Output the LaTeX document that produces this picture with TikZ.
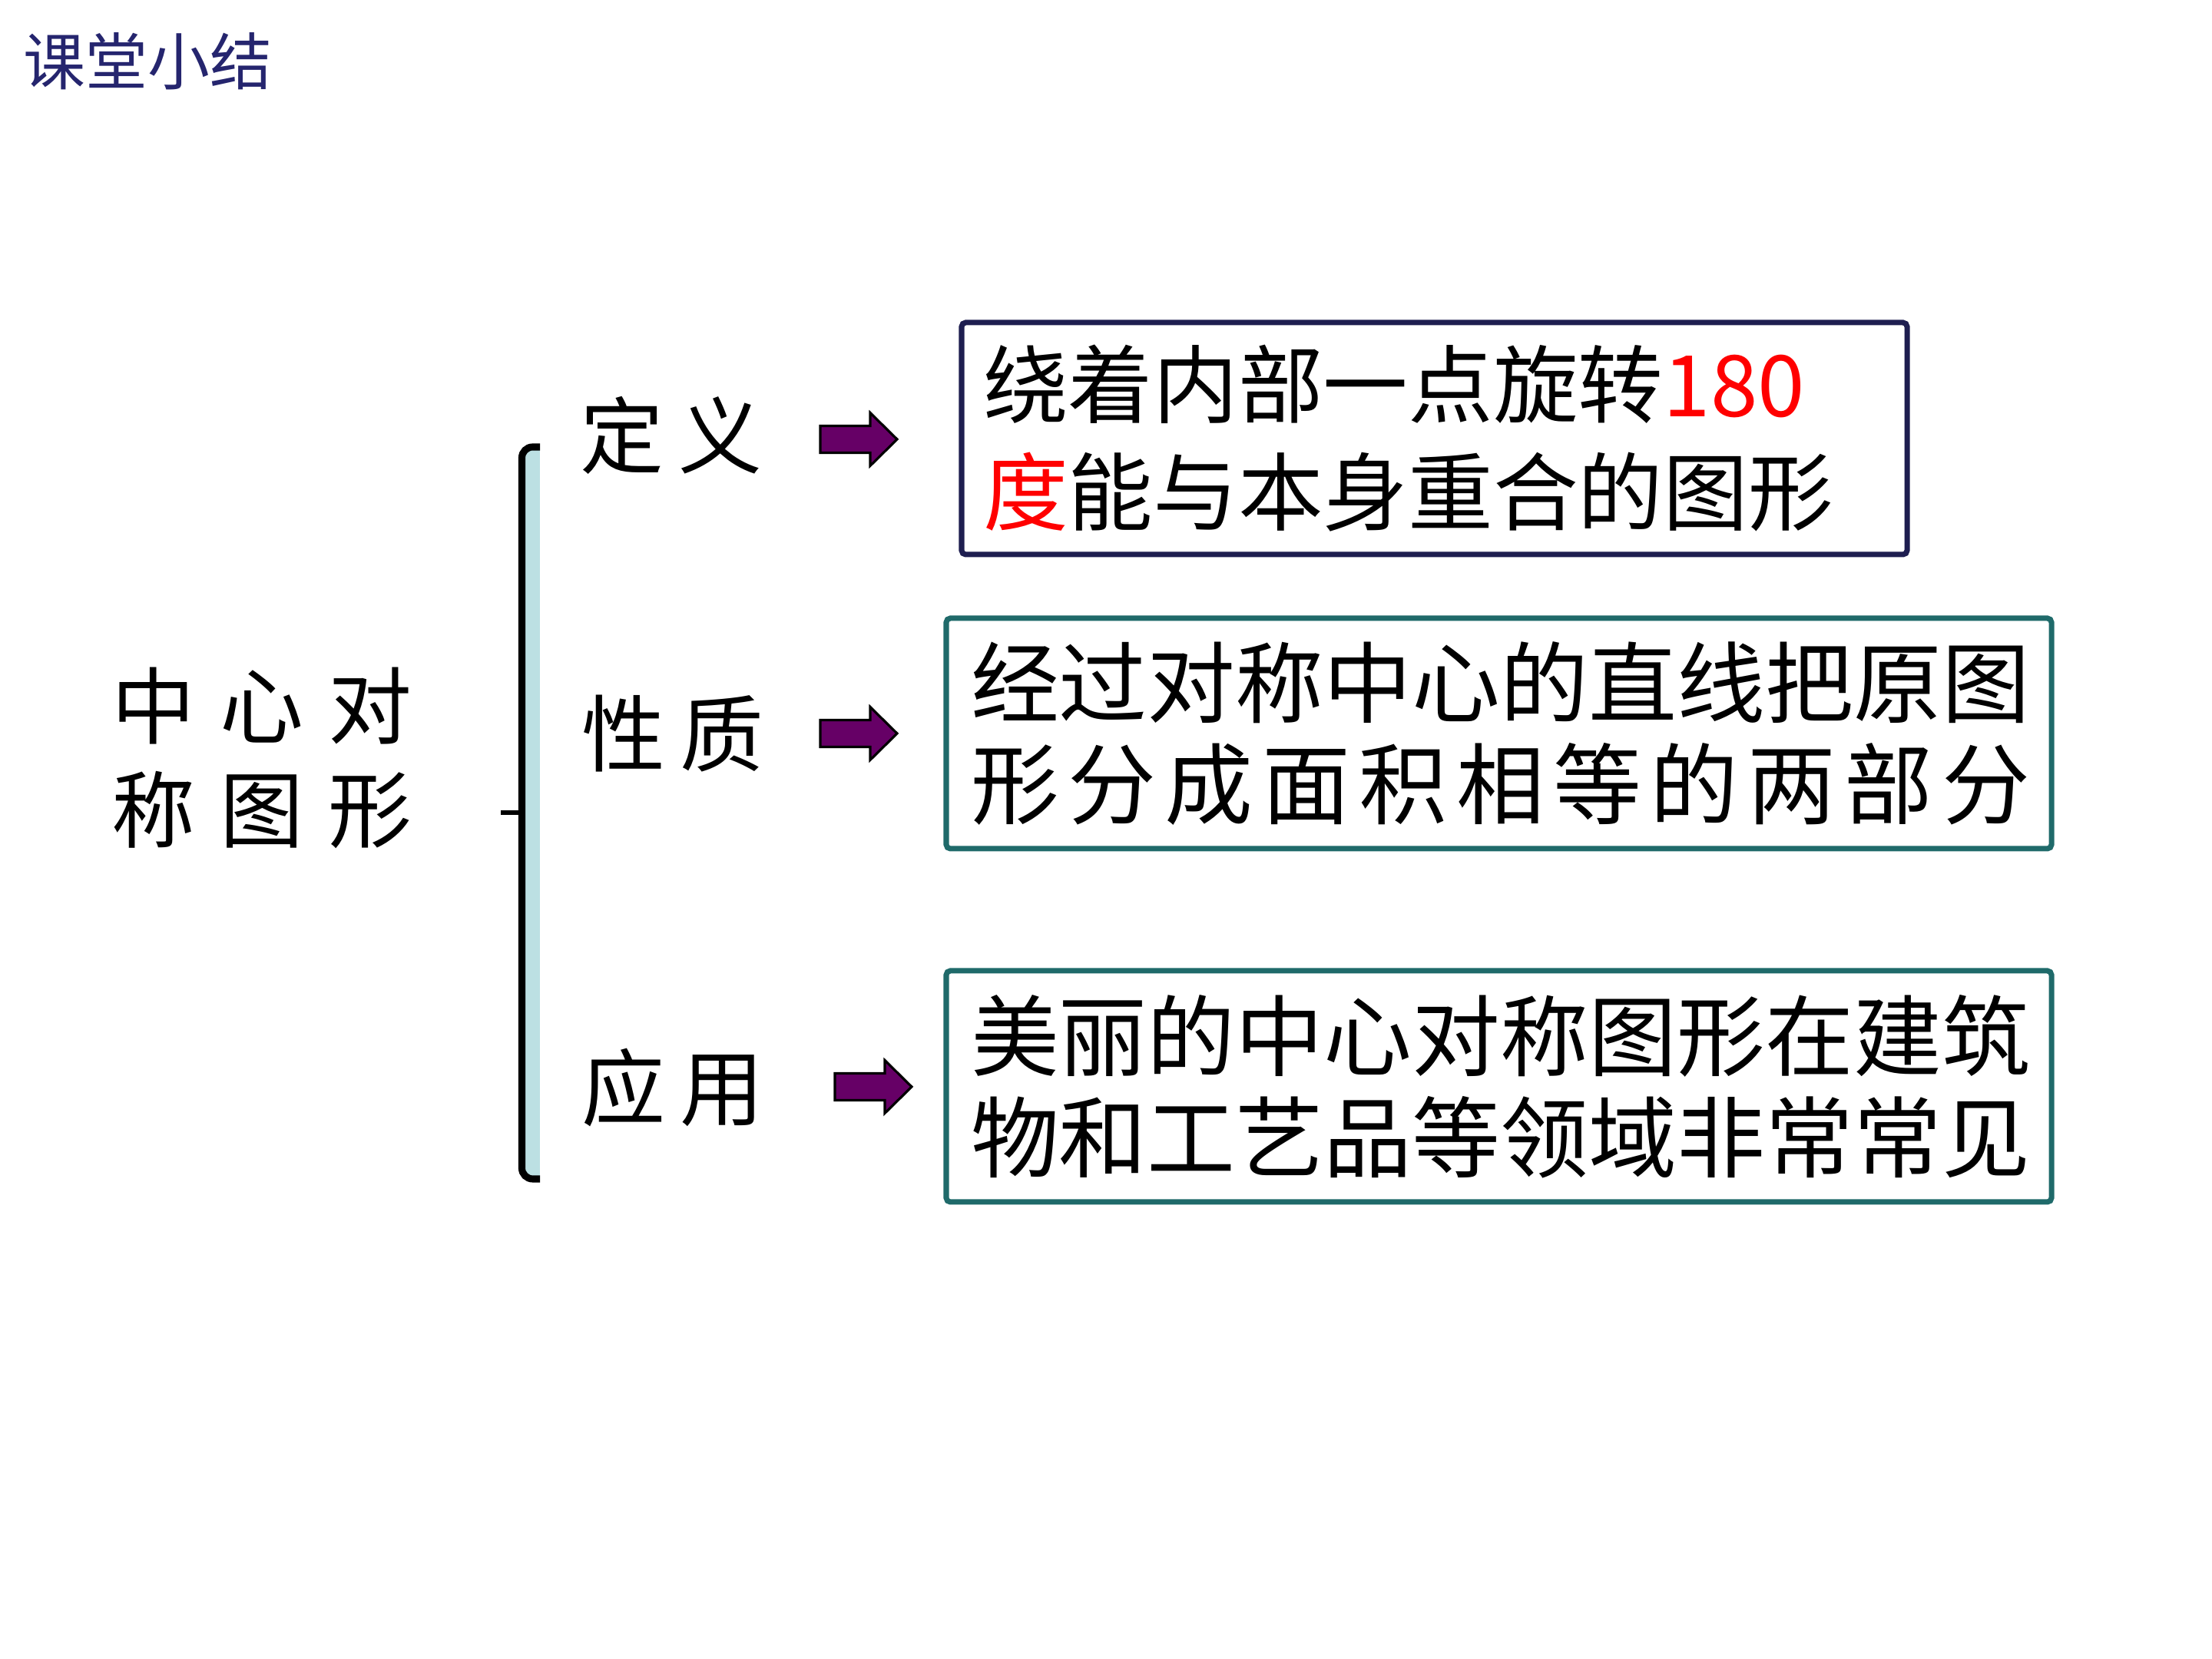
\documentclass[tikz,border=0pt]{standalone}
\usepackage{fontspec}
\setmainfont{Noto Sans CJK SC}
\usepackage{xcolor}
\usepackage{tikz}
\definecolor{titleblue}{HTML}{25256E}
\definecolor{navyline}{HTML}{1E1E50}
\definecolor{tealline}{HTML}{1F6A6A}
\definecolor{bracefill}{HTML}{BCE0E3}
\definecolor{arrowpurple}{HTML}{660066}
\tikzset{
  topic/.style={font=\fontsize{31}{38.4}\selectfont, inner sep=0pt},
  summarybox/.style={draw, line width=2pt, rounded corners=1.5pt, align=left},
  bigarrow/.style={fill=arrowpurple, draw=black, line width=0.9pt, line join=miter}
}
\newcommand{\cgap}{\hspace{0.32cm}}

\begin{document}
\begin{tikzpicture}
            \useasboundingbox (0,0) rectangle (28.8,21.6);
            \node[anchor=west, text=titleblue, font=\fontsize{23}{28}\selectfont, inner sep=0pt] (title) at (0.30,20.80) {课堂小结};
            \node[topic, align=center] (main) at (3.41,11.735) {中\cgap 心\cgap 对\\称\cgap 图\cgap 形};
            % brace
            \fill[bracefill] (6.84,15.78) rectangle (7.03,6.25);
            \draw[line width=2.6pt, rounded corners=4pt] (7.03,15.78) -- (6.795,15.78) -- (6.795,6.25) -- (7.03,6.25);
            \coordinate (tickin) at (6.52,11.02);
            \coordinate (tickout) at (6.795,11.02);
            \draw[line width=1.8pt] (tickin) -- (tickout);
            \node[topic] (define) at (8.74,15.93) {定\hspace{0.19cm}义};
            \node[topic] (property) at (8.76,12.05) {性\hspace{0.19cm}质};
            \node[topic] (usage) at (8.76,7.44) {应\hspace{0.19cm}用};
            \foreach \x/\y in {10.68/15.88, 10.68/12.05, 10.87/7.45}
              \filldraw[bigarrow, shift={(\x,\y)}] (0,0.175) -- (0.65,0.175) -- (0.65,0.345) -- (1,0) -- (0.65,-0.345) -- (0.65,-0.175) -- (0,-0.175) -- cycle;
            \node[summarybox, draw=navyline, text width=11.75cm, inner xsep=0.28cm, minimum height=3.02cm, font=\fontsize{31.5}{39.8}\selectfont] (defbox) at (18.675,15.89) {绕着内部一点旋转\textcolor{red}{180}\\\textcolor{red}{度}能与本身重合的图形};
            \node[summarybox, draw=tealline, text width=13.75cm, inner xsep=0.32cm, minimum height=3.0cm, font=\fontsize{32.7}{37.6}\selectfont] (propbox) at (19.515,12.05) {经过对称中心的直线把原图\\\makebox[12em][s]{形\hfill 分\hfill 成\hfill 面\hfill 积\hfill 相\hfill 等\hfill 的\hfill 两\hfill 部\hfill 分}};
            \node[summarybox, draw=tealline, text width=13.75cm, inner xsep=0.32cm, minimum height=3.01cm, font=\fontsize{32.7}{37.6}\selectfont] (usebox) at (19.515,7.455) {美丽的中心对称图形在建筑\\物和工艺品等领域非常常见};
        \end{tikzpicture}
\end{document}
